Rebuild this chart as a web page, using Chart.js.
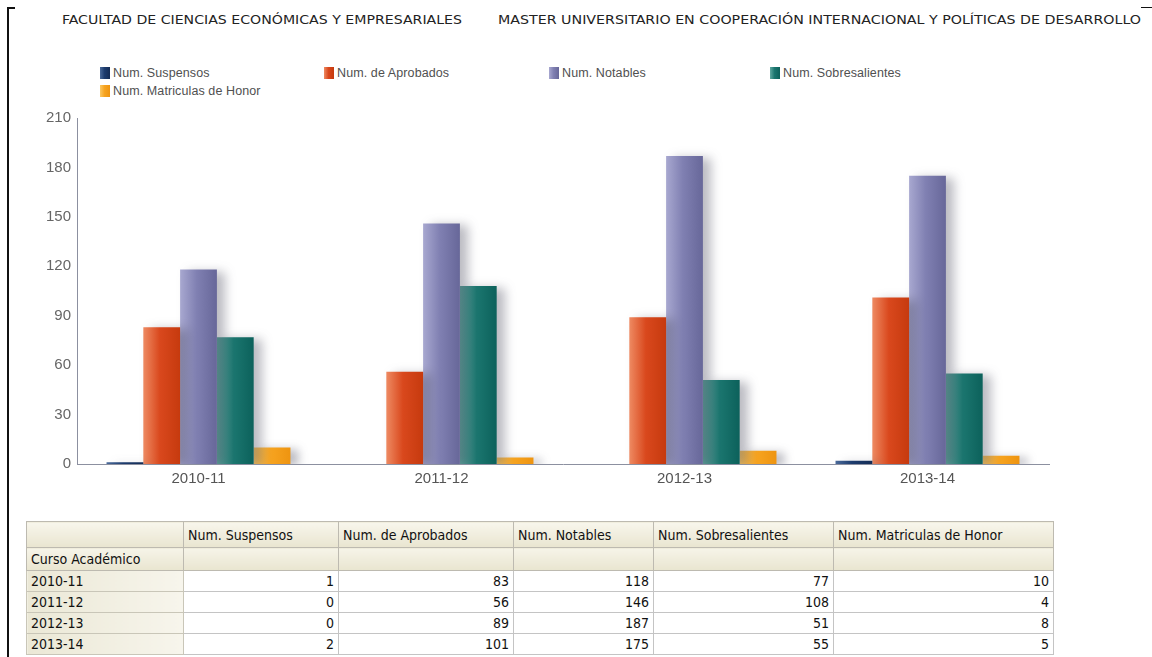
<!DOCTYPE html>
<html>
<head>
<meta charset="utf-8">
<script src="https://cdn.jsdelivr.net/npm/chart.js@4.4.1/dist/chart.umd.min.js"></script>
<style>
  html, body { margin:0; padding:0; background:#fff; }
  body { width:1152px; height:657px; position:relative; overflow:hidden; font-family:"DejaVu Sans", sans-serif; }
  .frame-l { position:absolute; left:7px; top:7px; width:2px; height:660px; background:#111; }
  .frame-t1 { position:absolute; left:7px; top:7px; width:8px; height:2px; background:#111; }
  .frame-t2 { position:absolute; left:1141px; top:7px; width:11px; height:1px; background:#111; }
  .hdr { position:absolute; top:12px; font-family:"DejaVu Sans Condensed", "DejaVu Sans", sans-serif; font-size:13px; color:#222; white-space:nowrap; transform-origin:0 0; }
  .leg { position:absolute; font-family:"Liberation Sans", Arial, sans-serif; font-size:12.5px; color:#505050; white-space:nowrap; letter-spacing:0.1px; }
  .leg i { position:absolute; left:0; top:1px; width:10px; height:12px; }
  .leg span { position:absolute; left:13px; top:0; }
  #wrap { position:absolute; left:0; top:103px; width:1070px; height:391px; }
  table { position:absolute; left:26px; top:521px; border-collapse:collapse; table-layout:fixed; font-family:"DejaVu Sans Condensed", "DejaVu Sans", sans-serif; font-size:14px; color:#111; }
  td { border:1px solid #c4c4c4; padding:0 4px; white-space:nowrap; overflow:hidden; line-height:18px; }
  tr.h1 td { height:25px; background:linear-gradient(#f8f6ec, #e9e5d0); border-color:#bdbab0; }
  tr.h2 td { height:22px; background:linear-gradient(#f6f4e8, #e9e5d0); border-color:#bdbab0; }
  tr.d td { height:20px; text-align:right; background:#fff; }
  tr.d td.rh { text-align:left; background:linear-gradient(90deg, #ebe8d6, #f7f5ec); border-color:#c9c6b8; }
</style>
</head>
<body>
<div class="frame-l"></div><div class="frame-t1"></div><div class="frame-t2"></div>
<div id="h1" class="hdr" style="left:62px">FACULTAD DE CIENCIAS ECONÓMICAS Y EMPRESARIALES</div>
<div id="h2" class="hdr" style="left:498px">MASTER UNIVERSITARIO EN COOPERACIÓN INTERNACIONAL Y POLÍTICAS DE DESARROLLO</div>
<div id="legend"></div>
<div id="wrap"><canvas id="c" width="1070" height="391"></canvas></div>
<table id="tbl"></table>
<script>
const categories = ['2010-11', '2011-12', '2012-13', '2013-14'];
const seriesNames = ['Num. Suspensos', 'Num. de Aprobados', 'Num. Notables', 'Num. Sobresalientes', 'Num. Matriculas de Honor'];
const suspensos = [1, 0, 0, 2];
const aprobados = [83, 56, 89, 101];
const notables = [118, 146, 187, 175];
const sobresalientes = [77, 108, 51, 55];
const matriculas = [10, 4, 8, 5];
const yTickValues = [0, 30, 60, 90, 120, 150, 180, 210];
const rowHeaderLabel = 'Curso Académico';

const seriesValues = [suspensos, aprobados, notables, sobresalientes, matriculas];
// [light, base, dark]
const palette = [
  ['#4a6a9a', '#1d3c6e', '#142c55'],
  ['#ee8a62', '#d9481d', '#c63a0e'],
  ['#a8a8d0', '#8080b2', '#676799'],
  ['#5fa8a0', '#1b766f', '#0c615b'],
  ['#fcc863', '#f7a420', '#ee9410']
];

function fit(id, target) {
  const el = document.getElementById(id);
  const w = el.getBoundingClientRect().width;
  el.style.transform = 'scaleX(' + (target / w) + ')';
}
fit('h1', 400);
fit('h2', 643);

const legPos = [[100, 66], [324, 66], [549, 66], [770, 66], [100, 84]];
const legend = document.getElementById('legend');
seriesNames.forEach((n, i) => {
  const d = document.createElement('div');
  d.className = 'leg';
  d.style.left = legPos[i][0] + 'px';
  d.style.top = legPos[i][1] + 'px';
  d.innerHTML = '<i style="background:linear-gradient(90deg,' + palette[i][0] + ',' + palette[i][1] + ' 45%,' + palette[i][2] + ')"></i><span></span>';
  d.querySelector('span').textContent = n;
  legend.appendChild(d);
});

const colW = [157, 155, 175, 140, 180, 220];
const tbl = document.getElementById('tbl');
const cg = document.createElement('colgroup');
colW.forEach(w => { const c = document.createElement('col'); c.style.width = w + 'px'; cg.appendChild(c); });
tbl.appendChild(cg);
let tr = document.createElement('tr'); tr.className = 'h1';
tr.appendChild(document.createElement('td'));
seriesNames.forEach(n => { const td = document.createElement('td'); td.textContent = n; tr.appendChild(td); });
tbl.appendChild(tr);
tr = document.createElement('tr'); tr.className = 'h2';
let td0 = document.createElement('td'); td0.textContent = rowHeaderLabel; tr.appendChild(td0);
seriesNames.forEach(() => tr.appendChild(document.createElement('td')));
tbl.appendChild(tr);
categories.forEach((cat, r) => {
  const row = document.createElement('tr'); row.className = 'd';
  const h = document.createElement('td'); h.className = 'rh'; h.textContent = cat; row.appendChild(h);
  seriesValues.forEach(s => { const td = document.createElement('td'); td.textContent = s[r]; row.appendChild(td); });
  tbl.appendChild(row);
});

const barStyle = {
  id: 'barStyle',
  beforeDatasetDraw(chart, args) {
    const ctx = chart.ctx;
    const p = palette[args.index];
    args.meta.data.forEach(el => {
      const x0 = el.x - el.width / 2, x1 = el.x + el.width / 2;
      const g = ctx.createLinearGradient(x0, 0, x1, 0);
      g.addColorStop(0, p[0]);
      g.addColorStop(0.45, p[1]);
      g.addColorStop(1, p[2]);
      el.options.backgroundColor = g;
    });
    ctx.save();
    ctx.shadowColor = 'rgba(60,60,80,0.35)';
    ctx.shadowBlur = 10;
    ctx.shadowOffsetX = 8;
    ctx.shadowOffsetY = 2;
  },
  afterDatasetDraw(chart) {
    chart.ctx.restore();
  }
};

new Chart(document.getElementById('c'), {
  type: 'bar',
  data: {
    labels: categories,
    datasets: seriesNames.map((n, i) => ({
      label: n,
      data: seriesValues[i],
      backgroundColor: (c) => palette[c.datasetIndex][1],
      borderWidth: 0,
      barPercentage: 1,
      categoryPercentage: 0.757
    }))
  },
  options: {
    responsive: false,
    animation: false,
    events: [],
    layout: { padding: { left: 0, right: 21, top: 12, bottom: 0 } },
    plugins: { legend: { display: false }, tooltip: { enabled: false } },
    scales: {
      x: {
        grid: { display: false, drawTicks: false },
        border: { display: true, color: '#8c90a0', width: 1 },
        ticks: { color: '#555', padding: 6, font: { family: 'Liberation Sans', size: 15 } },
        afterFit: (s) => { s.height = 30; }
      },
      y: {
        min: 0, max: 210,
        afterBuildTicks: (s) => { s.ticks = yTickValues.map(v => ({ value: v })); },
        grid: { display: false, drawTicks: false },
        border: { display: true, color: '#8c90a0', width: 1 },
        ticks: { color: '#666', padding: 6, font: { family: 'Liberation Sans', size: 15 } },
        afterFit: (s) => { s.width = 77; }
      }
    }
  },
  plugins: [barStyle]
});
</script>
</body>
</html>
